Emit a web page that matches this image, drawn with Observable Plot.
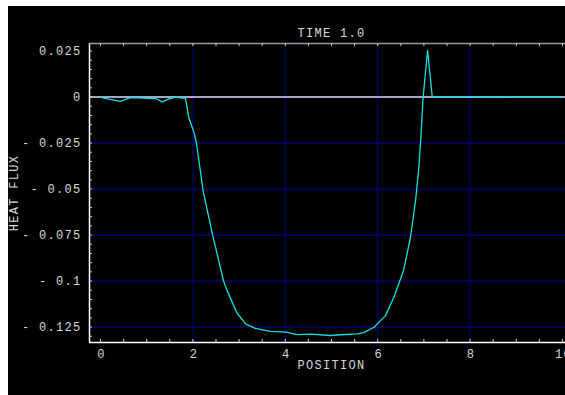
<!DOCTYPE html>
<html>
<head>
<meta charset="utf-8">
<script src="https://cdn.jsdelivr.net/npm/d3@7"></script>
<script src="https://cdn.jsdelivr.net/npm/@observablehq/plot@0.6"></script>
<style>
  html, body { margin: 0; padding: 0; background: #ffffff; }
  #box { position: absolute; left: 8px; top: 6px; width: 557px; height: 389px; background: #000; overflow: hidden; }
  #box svg text { letter-spacing: 1.3px; }
</style>
</head>
<body>
<div id="box"></div>
<script>
// Curve values
const position = [0, 0.07, 0.43, 0.65, 1.19, 1.34, 1.48, 1.66, 1.73, 1.84, 1.91, 2.03, 2.08, 2.22, 2.42, 2.66, 2.74, 2.96, 3.03, 3.14, 3.35, 3.68, 4.02, 4.26, 4.55, 4.98, 5.19, 5.56, 5.70, 5.92, 6.06, 6.17, 6.35, 6.56, 6.71, 6.82, 6.89, 6.94, 6.98, 7.08, 7.18, 8.0, 8.5, 9.0, 10.0];
const heatFlux = [0, -0.0006, -0.0023, -0.0003, -0.0008, -0.0026, -0.001, 0.0001, -0.0006, -0.0006, -0.011, -0.0198, -0.0254, -0.0508, -0.0742, -0.0997, -0.1052, -0.1176, -0.1197, -0.1233, -0.1257, -0.1273, -0.1278, -0.1291, -0.1289, -0.1296, -0.1292, -0.1287, -0.1280, -0.1251, -0.1215, -0.1188, -0.1088, -0.0943, -0.0762, -0.0563, -0.0382, -0.0200, -0.0010, 0.0253, 0.0002, 0.0002, 0.0001, 0, 0];

const xTicks = [0, 2, 4, 6, 8, 10];
const xGrid = [2, 4, 6, 8];
const yTicks = [0.025, 0, -0.025, -0.05, -0.075, -0.1, -0.125];
const yGrid = [-0.025, -0.05, -0.075, -0.1, -0.125];
const xDomain = [-0.238, 10.065];
const yDomain = [-0.1334, 0.0291];
const title = "TIME 1.0";
const xLabel = "POSITION";
const yLabel = "HEAT FLUX";

const data = position.map((p, i) => ({x: p, y: heatFlux[i]}));
const xMinor = d3.range(0, 10.001, 0.5);
const yMinor = d3.range(-0.13, 0.0291, 0.005);

const font = "'Liberation Mono', 'DejaVu Sans Mono', monospace";
const fmtY = d => d === 0 ? "0" : (d < 0 ? "- " + String(-d) : String(d));

const chart = Plot.plot({
  width: 557,
  height: 389,
  marginLeft: 81,
  marginRight: 0,
  marginTop: 37,
  marginBottom: 53,
  style: {background: "black", color: "#d8d8d8", fontFamily: font, fontSize: "12px", overflow: "visible"},
  x: {domain: xDomain, axis: null},
  y: {domain: yDomain, axis: null},
  marks: [
    Plot.ruleY(yGrid, {y: d => d, stroke: "#0000a0", strokeWidth: 1}),
    Plot.ruleX(xGrid, {x: d => d, stroke: "#000080", strokeWidth: 1}),
    Plot.ruleY([0], {y: d => d, stroke: "#a8a4c8", strokeWidth: 2}),
    Plot.line(data, {x: "x", y: "y", stroke: "#10e0e0", strokeWidth: 1.3}),
    // frame edges
    Plot.ruleX([xDomain[0]], {x: d => d, stroke: "#ffffff", strokeWidth: 1.5}),
    Plot.ruleY([yDomain[0]], {y: d => d, stroke: "#ffffff", strokeWidth: 1.5}),
    Plot.ruleY([yDomain[1]], {y: d => d, stroke: "#9a9a9a", strokeWidth: 1.5}),
    // inward ticks
    Plot.tickX(xMinor, {x: d => d, insetTop: 296, stroke: "#d0d0d0"}),
    Plot.tickX(xMinor, {x: d => d, insetBottom: 296, stroke: "#d0d0d0"}),
    Plot.tickY(yMinor, {y: d => d, insetRight: 473, stroke: "#d0d0d0"}),
    // tick labels
    Plot.axisX(xTicks, {anchor: "bottom", tickSize: 0, tickPadding: 7, label: null, fill: "#d8d8d8", fontSize: 12, tickFormat: d => String(d), dx: 1}),
    Plot.axisY(yTicks, {anchor: "left", tickSize: 0, tickPadding: 8, label: null, fill: "#d8d8d8", fontSize: 12, tickFormat: fmtY}),
    // titles
    Plot.text([title], {frameAnchor: "top", text: d => d, dy: -15, dx: 4, fill: "#d8d8d8", fontSize: 12}),
    Plot.text([xLabel], {frameAnchor: "bottom", text: d => d, dy: 26, dx: 4, fill: "#d8d8d8", fontSize: 12}),
    Plot.text([yLabel], {frameAnchor: "left", text: d => d, dx: -75, rotate: -90, textAnchor: "middle", fill: "#d8d8d8", fontSize: 12})
  ]
});
document.getElementById("box").appendChild(chart);
</script>
</body>
</html>
